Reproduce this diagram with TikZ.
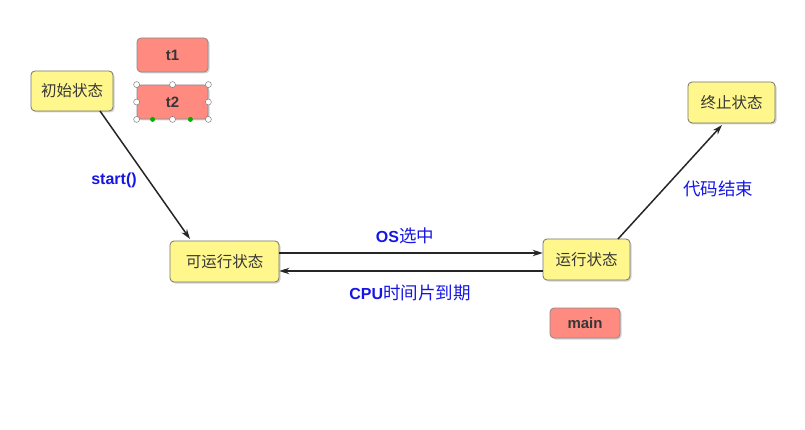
\documentclass[tikz,border=0pt]{standalone}
\usepackage{fontspec}
\setmainfont{Liberation Sans}
\newfontfamily\cjk{Noto Sans CJK SC}
\usetikzlibrary{arrows.meta,shadows,calc}
\definecolor{boxyellow}{RGB}{255,247,140}
\definecolor{boxred}{RGB}{255,138,128}
\definecolor{labblue}{RGB}{22,22,228}
\definecolor{txtgray}{RGB}{55,55,55}
\tikzset{
  statebox/.style={draw=black!55, line width=0.8pt, fill=boxyellow, rounded corners=4pt,
    drop shadow={shadow xshift=1.5pt, shadow yshift=-1.5pt, opacity=0.35},
    font=\cjk\fontsize{15.5}{18}\selectfont, text=txtgray, inner sep=0pt},
  threadbox/.style={draw=black!45, line width=0.8pt, fill=boxred, rounded corners=4pt,
    drop shadow={shadow xshift=1.5pt, shadow yshift=-1.5pt, opacity=0.35},
    font=\bfseries\fontsize{15}{18}\selectfont, text=txtgray, inner sep=0pt},
  lab/.style={font=\bfseries\fontsize{16}{19}\selectfont, text=labblue},
  conn/.style={line width=1.5pt, draw=black!85, -{Stealth[length=10pt,width=6.5pt]}},
  handle/.style={circle, draw=black!50, fill=white, inner sep=0pt, minimum size=6pt, line width=0.5pt},
  ghandle/.style={circle, fill=green!70!black, inner sep=0pt, minimum size=5pt}
}
\newcommand{\cjklab}[1]{{\cjk\mdseries\fontsize{17.5}{20}\selectfont #1}}
\begin{document}
\begin{tikzpicture}[x=1pt,y=-1pt]
\useasboundingbox (0,0) rectangle (805,430);
% state boxes
\node[statebox, minimum width=82pt, minimum height=40pt] (init) at (72,91) {初始状态};
\node[statebox, minimum width=109pt, minimum height=41pt] (ready) at (224.5,261.5) {可运行状态};
\node[statebox, minimum width=87pt, minimum height=41pt] (run) at (586.5,259.5) {运行状态};
\node[statebox, minimum width=87pt, minimum height=41pt] (term) at (731.5,102.5) {终止状态};
% thread boxes
\node[threadbox, minimum width=71pt, minimum height=34pt] (t1) at (172.5,55) {t1};
\node[threadbox, minimum width=71pt, minimum height=34pt] (t2) at (172.5,102) {t2};
\node[threadbox, minimum width=70pt, minimum height=30pt] (main) at (585,323) {main};
% selection handles on t2
\foreach \p/\n in {north west/a, north/b, north east/c, west/d, east/e, south west/f, south/g, south east/h}
  \node[handle] (h\n) at (t2.\p) {};
\node[ghandle] (g1) at ($(t2.south west)+(16,0)$) {};
\node[ghandle] (g2) at ($(t2.south east)+(-18,0)$) {};
% connectors
\coordinate (i0) at (100,111);
\coordinate (r0) at (190,239);
\draw[conn] (i0) -- (r0);
\draw[conn] ([yshift=8.5pt]ready.east) -- ([yshift=6.5pt]run.west);
\draw[conn] ([yshift=-11.5pt]run.west) -- ([yshift=-9.5pt]ready.east);
\coordinate (u0) at (618,239);
\coordinate (u1) at (722,125);
\draw[conn] (u0) -- (u1);
% labels
\node[lab] (l1) at (114,180) {start()};
\node[lab] (l2) at (405,236) {OS\cjklab{选中}};
\node[lab] (l3) at (410,293) {CPU\cjklab{时间片到期}};
\node[lab] (l4) at (718,189) {\cjklab{代码结束}};
\end{tikzpicture}
\end{document}
